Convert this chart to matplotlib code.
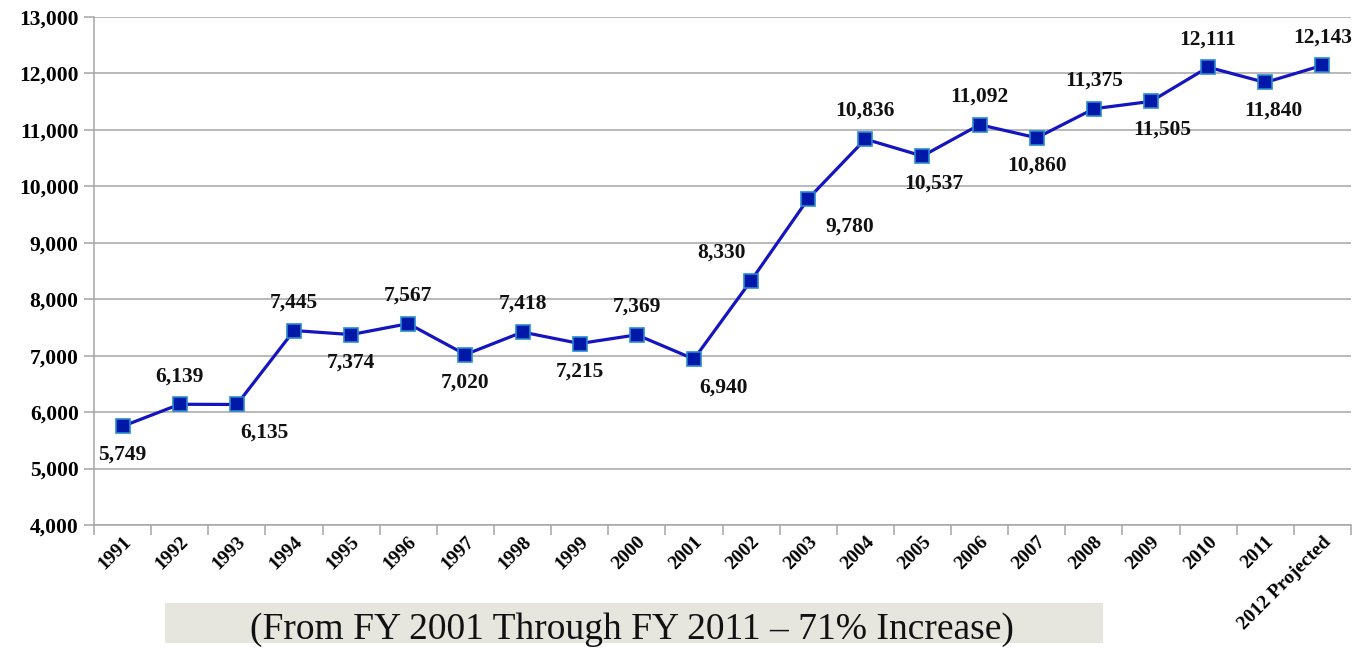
import matplotlib.pyplot as plt
from matplotlib.ticker import FuncFormatter, FixedLocator
from matplotlib.patches import Rectangle

years = ["1991", "1992", "1993", "1994", "1995", "1996", "1997", "1998", "1999", "2000",
         "2001", "2002", "2003", "2004", "2005", "2006", "2007", "2008", "2009", "2010",
         "2011", "2012 Projected"]
values = [5749, 6139, 6135, 7445, 7374, 7567, 7020, 7418, 7215, 7369,
          6940, 8330, 9780, 10836, 10537, 11092, 10860, 11375, 11505, 12111,
          11840, 12143]
label_above = [False, True, False, True, False, True, False, True, False, True,
               False, True, False, True, False, True, False, True, False, True,
               False, True]
# horizontal nudge of the data labels (points)
label_dx = [0, 0, 20, 0, 0, 0, 0, 0, 0, 0,
            21, -21, 30, 0, 8, 0, 0, 0, 8, 0,
            6, 0]
note = "(From FY 2001 Through FY 2011 \u2013 71% Increase)"

plt.rcParams["font.family"] = ["Liberation Serif", "DejaVu Serif"]

fig = plt.figure(figsize=(13.71, 6.5), dpi=100)
ax = fig.add_axes([94 / 1371, 1 - 525 / 650, (1351 - 94) / 1371, (525 - 17) / 650])

x = list(range(len(years)))
ax.plot(x, values, color="#1414C0", linewidth=2.3, marker="s", markersize=10,
        markerfacecolor="#0018A8", markeredgecolor="#2A8AD0", markeredgewidth=1.2, zorder=3)

for i, v in enumerate(values):
    dy = 13 if label_above[i] else -13
    va = "bottom" if label_above[i] else "top"
    ax.annotate(f"{v:,}", (i, v), xytext=(label_dx[i], dy), textcoords="offset points",
                ha="center", va=va, fontsize=15.5, fontweight="bold", color="#111111")

ax.set_xlim(-0.5, len(years) - 0.5)
ax.set_ylim(4000, 13000)
ax.set_yticks(range(4000, 13001, 1000))
ax.yaxis.set_major_formatter(FuncFormatter(lambda v, p: f"{int(v):,}"))
ax.grid(axis="y", color="#A6A6A6", linewidth=1.1)
ax.set_axisbelow(True)

ax.xaxis.set_major_locator(FixedLocator([i - 0.5 for i in range(len(years) + 1)]))
ax.xaxis.set_minor_locator(FixedLocator(x))
ax.set_xticklabels([], minor=False)
ax.set_xticklabels(years, minor=True, rotation=45, ha="right", rotation_mode="anchor",
                   fontsize=14, fontweight="bold")
ax.tick_params(axis="x", which="major", length=7, color="#A6A6A6", width=1.1)
ax.tick_params(axis="x", which="minor", length=0, pad=6)
ax.tick_params(axis="y", length=7, color="#A6A6A6", width=1.1, labelsize=15.5, pad=4)
for lbl in ax.get_yticklabels():
    lbl.set_fontweight("bold")

for s in ["top", "right"]:
    ax.spines[s].set_visible(False)
for s in ["left", "bottom"]:
    ax.spines[s].set_color("#A6A6A6")
    ax.spines[s].set_linewidth(1.1)

fig.patches.append(Rectangle((165 / 1371, 1 - 643 / 650), (1103 - 165) / 1371, 40 / 650,
                             transform=fig.transFigure, facecolor="#E6E6DF", edgecolor="none"))
fig.text(632 / 1371, 1 - 630 / 650, note, ha="center", va="center", fontsize=27, color="#111111")

fig.savefig("out.png", dpi=100)
